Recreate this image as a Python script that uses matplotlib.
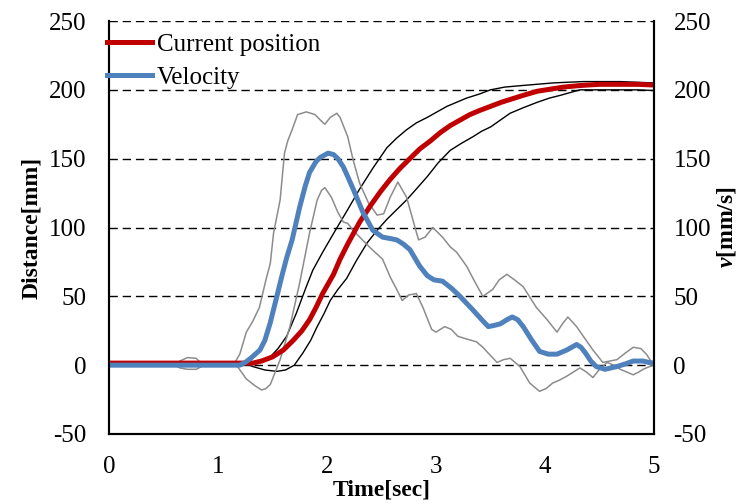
import matplotlib.pyplot as plt

plt.rcParams['font.family'] = ['Liberation Serif', 'DejaVu Serif']
plt.rcParams['axes.unicode_minus'] = False
plt.rcParams['mathtext.fontset'] = 'custom'
plt.rcParams['mathtext.bfit'] = 'Liberation Serif:bold:italic'

# Current position (red) and its bounds (black), mm
pos_t = [0, 1.0, 1.2, 1.32, 1.4, 1.5, 1.6, 1.69, 1.77, 1.84, 1.9, 1.96, 2.06, 2.12,
         2.19, 2.3, 2.4, 2.49, 2.58, 2.67, 2.76, 2.85, 2.95, 3.04, 3.13, 3.22, 3.31,
         3.4, 3.5, 3.6, 3.68, 3.8, 3.93, 4.05, 4.17, 4.3, 4.39, 4.5, 4.69, 4.85, 5.0]
pos_mm = [1.5, 1.5, 1.5, 1.5, 3, 6, 11, 18, 25, 33, 42, 52, 66, 77,
          88, 104, 116, 126, 135, 143, 150, 157, 163, 169, 174, 178, 182,
          185, 188, 191, 193, 196, 199, 200.5, 202, 203, 203.5, 204, 204, 204, 203.5]

hi_t = [0, 1.2, 1.29, 1.4, 1.48, 1.55, 1.63, 1.72, 1.81, 1.87, 1.96, 2.07, 2.19, 2.3,
        2.42, 2.55, 2.64, 2.73, 2.82, 2.92, 3.01, 3.1, 3.19, 3.28, 3.4, 3.5, 3.63,
        3.77, 3.92, 4.07, 4.2, 4.35, 4.5, 4.69, 4.85, 5.0]
hi_mm = [1, 1, 1, 3.5, 6, 12, 21, 38, 57, 69, 82, 97, 113, 128,
         143, 158, 165, 171, 176, 180, 184, 188, 191, 194, 197, 200, 202,
         203, 204, 205, 205.5, 206, 206, 206, 205.5, 205]

lo_t = [0, 1.25, 1.32, 1.43, 1.54, 1.62, 1.7, 1.78, 1.85, 1.91, 1.97, 2.03, 2.1, 2.18,
        2.27, 2.37, 2.46, 2.55, 2.64, 2.73, 2.82, 2.92, 3.02, 3.13, 3.23, 3.34, 3.42,
        3.5, 3.59, 3.68, 3.8, 3.93, 4.04, 4.14, 4.23, 4.32, 4.5, 4.7, 4.85, 5.0]
lo_mm = [1, 1, -1, -3.5, -4.5, -3.5, 0, 9, 18, 28, 37, 47, 55, 63,
         76, 89, 98, 106, 113, 120, 128, 137, 147, 156, 161, 166, 170,
         173, 178, 183, 187, 191, 194, 196, 198, 200, 200, 200, 200, 199.5]

# Velocity (blue) and its bounds (gray), mm/s
vel_t = [0, 0.5, 1.0, 1.2, 1.25, 1.3, 1.385, 1.43, 1.48, 1.54, 1.59, 1.63, 1.68, 1.75,
         1.8, 1.84, 1.9, 1.94, 2.01, 2.06, 2.1, 2.15, 2.19, 2.24, 2.33, 2.42, 2.51,
         2.58, 2.64, 2.7, 2.76, 2.85, 2.92, 2.98, 3.06, 3.14, 3.22, 3.34, 3.42, 3.48,
         3.54, 3.59, 3.65, 3.7, 3.75, 3.8, 3.88, 3.95, 4.03, 4.11, 4.2, 4.29, 4.33,
         4.37, 4.42, 4.47, 4.55, 4.66, 4.74, 4.81, 4.9, 4.95, 5.0]
vel = [0, 0, 0, 0, 2, 5, 11, 18, 31, 50, 66, 78, 91, 115,
       130, 140, 148, 151, 154, 153, 150, 144, 137, 128, 111, 98, 93,
       92, 91, 88, 84, 72, 65, 62, 61, 56, 50, 40, 33, 28,
       29, 30, 33, 35, 33, 28, 18, 10, 8, 8, 11, 15, 13,
       9, 3, -1, -3, -1, 1, 3, 3, 2, 1.5]

vhi_t = [0, 0.6, 0.65, 0.72, 0.8, 0.85, 0.9, 1.14, 1.2, 1.26, 1.32, 1.38, 1.44, 1.48,
         1.51, 1.57, 1.61, 1.64, 1.68, 1.73, 1.81, 1.89, 1.94, 1.98, 2.03, 2.09, 2.12,
         2.15, 2.19, 2.24, 2.3, 2.38, 2.46, 2.52, 2.58, 2.65, 2.73, 2.79, 2.84, 2.9,
         2.97, 3.06, 3.13, 3.19, 3.28, 3.36, 3.43, 3.52, 3.58, 3.65, 3.72, 3.8, 3.92,
         4.02, 4.11, 4.16, 4.21, 4.29, 4.36, 4.44, 4.53, 4.66, 4.74, 4.81, 4.88, 4.93,
         4.98, 5.0]
vhi = [0, 0, 3, 5.5, 5, 1, 0, 0, 8, 24, 32, 42, 62, 74,
       96, 120, 154, 163, 171, 182, 184, 182, 178, 175, 180, 183, 180,
       174, 166, 149, 132, 118, 109, 110, 122, 133, 122, 105, 91, 93,
       100, 93, 86, 82, 72, 60, 50, 55, 62, 66, 62, 57, 42,
       33, 24, 30, 35, 28, 20, 11, 2, 4, 9, 13, 12, 8,
       2, 1]

vlo_t = [0, 0.6, 0.65, 0.72, 0.8, 0.85, 0.9, 1.17, 1.26, 1.34, 1.4, 1.44, 1.48, 1.52,
         1.57, 1.66, 1.75, 1.84, 1.91, 1.95, 1.98, 2.04, 2.1, 2.15, 2.19, 2.24, 2.3,
         2.4, 2.51, 2.58, 2.64, 2.69, 2.75, 2.82, 2.88, 2.96, 3.0, 3.08, 3.14, 3.2,
         3.28, 3.37, 3.43, 3.5, 3.56, 3.62, 3.68, 3.77, 3.86, 3.95, 4.01, 4.07, 4.13,
         4.2, 4.32, 4.38, 4.44, 4.5, 4.57, 4.63, 4.69, 4.75, 4.81, 4.86, 4.9, 4.96, 5.0]
vlo = [0, 0, -2, -3, -3, -1, 0, 0, -10, -15, -18, -17, -14, -6,
       4, 28, 60, 96, 120, 127, 129, 122, 111, 104, 103, 98, 93,
       85, 77, 64, 55, 47, 51, 52, 42, 26, 24, 28, 26, 21,
       19, 17, 13, 7, 2, 4, 5, -1, -13, -19, -17, -13, -11,
       -8, -2, -5, -9, -3, 2, 0, -3, -5, -7, -5, -3, -1, 0]

ticks = [-50, 0, 50, 100, 150, 200, 250]

fig = plt.figure(figsize=(7.47, 5.04), dpi=100)
ax = fig.add_axes([0.1459, 0.1389, 0.7296, 0.8194])
ax2 = ax.twinx()

ax.set_xlim(0, 5)
ax.set_ylim(-50, 250)
ax2.set_ylim(-50, 250)
ax.set_yticks(ticks)
ax2.set_yticks(ticks)
ax.set_xticks(range(6))

# dashed grid lines
for y in ticks[1:]:
    ax.axhline(y, color='black', lw=1.0, ls=(0, (6, 3.5)), zorder=0)

ax2.plot(vhi_t, vhi, color='#8c8c8c', lw=1.1)
ax2.plot(vlo_t, vlo, color='#8c8c8c', lw=1.1)
ax.plot(hi_t, hi_mm, color='black', lw=1.0)
ax.plot(lo_t, lo_mm, color='black', lw=1.0)
l1, = ax2.plot(pos_t, pos_mm, color='#C00000', lw=3.6, label='Current position')
l2, = ax2.plot(vel_t, vel, color='#4F81BD', lw=3.6, label='Velocity')

for a in (ax, ax2):
    a.spines['top'].set_visible(False)
    for s in ('left', 'right', 'bottom'):
        a.spines[s].set_linewidth(1.5)
    a.tick_params(length=0, labelsize=18)
ax.tick_params(axis='y', pad=16)
ax.tick_params(axis='x', pad=16)
ax2.tick_params(axis='y', pad=14)

ax.set_xlabel('Time[sec]', fontsize=17, fontweight='bold', labelpad=1)
ax.set_ylabel('Distance[mm]', fontsize=17, fontweight='bold', labelpad=5)
ax2.set_ylabel(r'$\mathbfit{v}$[mm/s]', fontsize=17, fontweight='bold', labelpad=3)

leg = ax2.legend(handles=[l1, l2], loc='upper left', bbox_to_anchor=(-0.027, 1.0),
                 frameon=False, fontsize=18, handlelength=1.8, handletextpad=0.2,
                 labelspacing=0.4, borderaxespad=0.0, borderpad=0.5)

fig.savefig('out.png', dpi=100)
